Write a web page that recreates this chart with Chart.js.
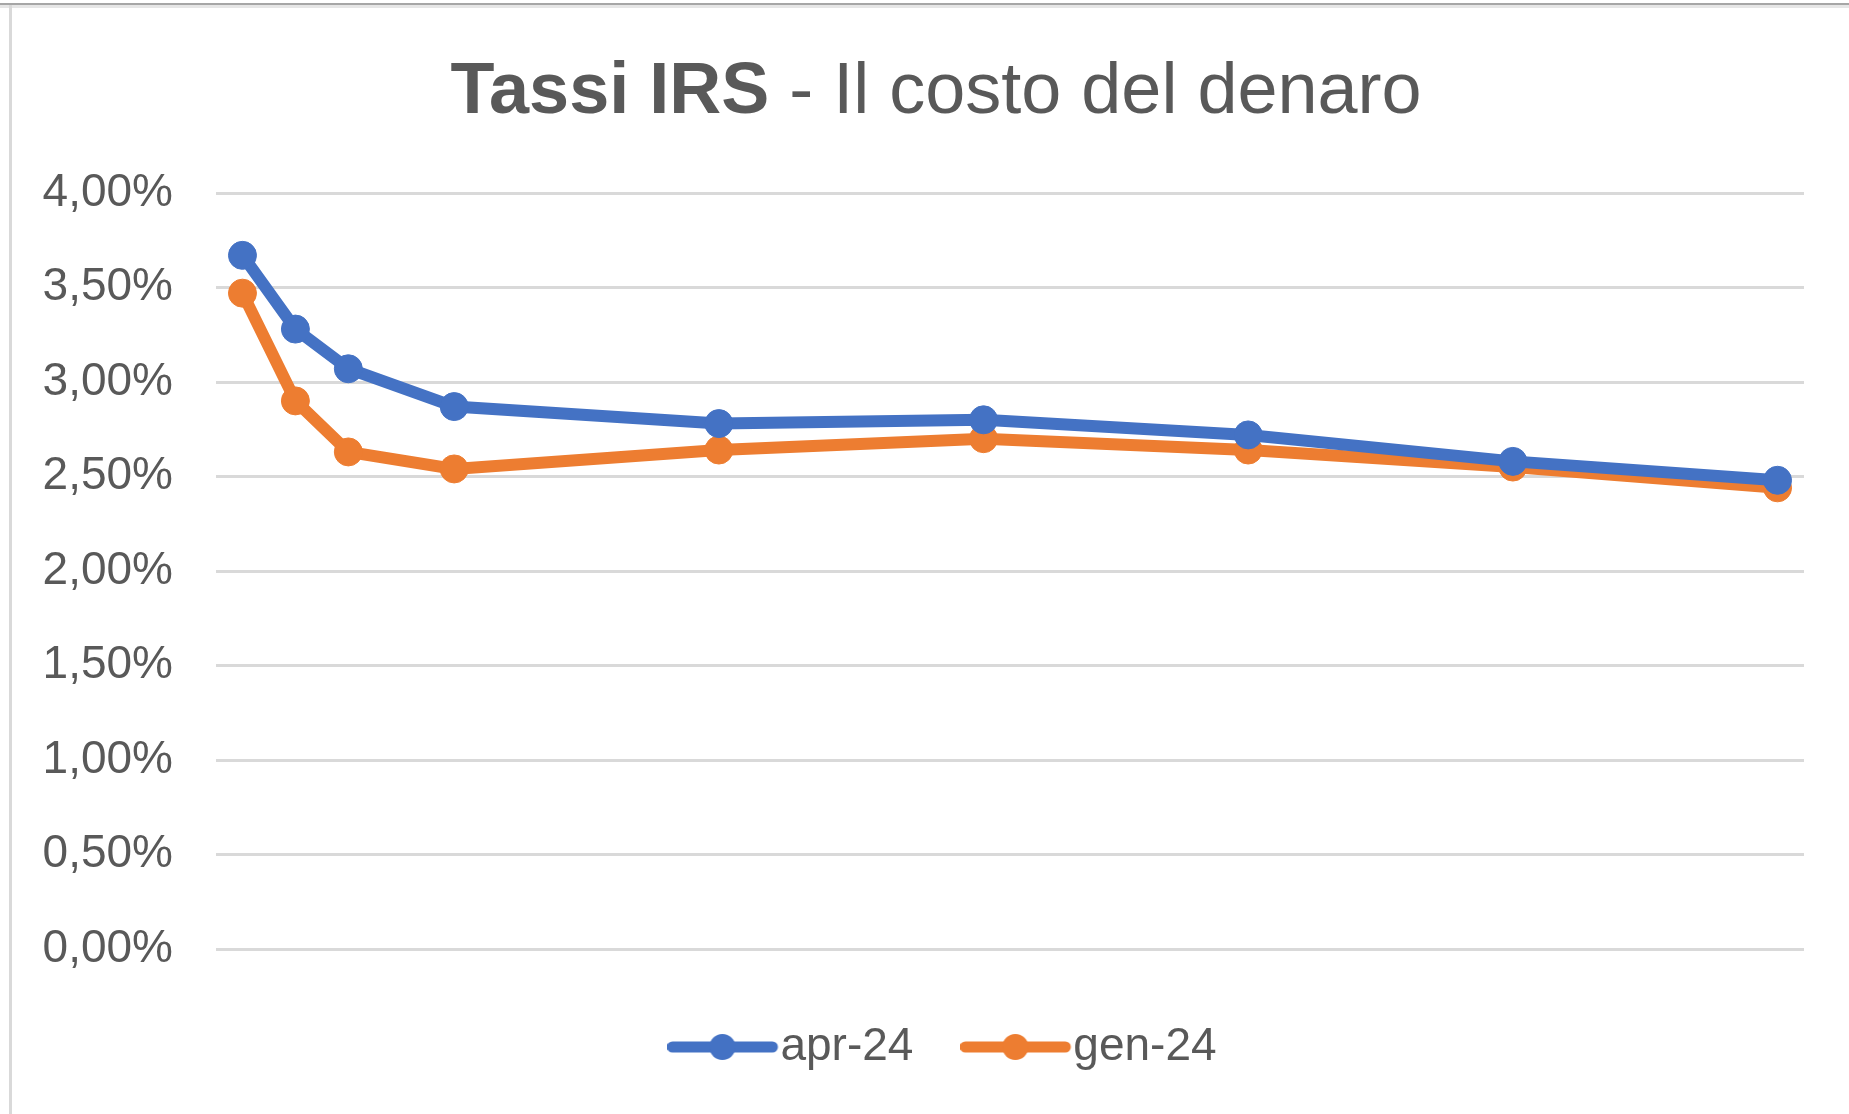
<!DOCTYPE html>
<html>
<head>
<meta charset="utf-8">
<script src="https://cdn.jsdelivr.net/npm/chart.js@4/dist/chart.umd.min.js"></script>
<style>
  html, body { margin: 0; padding: 0; background: #fff; }
  #wrap { position: absolute; left: 0; top: 0; width: 1849px; height: 1114px; }
  .edge-top { position: absolute; left: 0; top: 3px; width: 1849px; height: 2px; background: #a6a6a6; }
  .edge-top2 { position: absolute; left: 0; top: 5px; width: 1849px; height: 3px; background: #e6e6e6; }
  .edge-left { position: absolute; left: 9px; top: 5px; width: 3px; height: 1109px; background: #d9d9d9; }
</style>
</head>
<body>
<div id="wrap"><canvas id="chartIrs"></canvas></div>
<div class="edge-top"></div>
<div class="edge-top2"></div>
<div class="edge-left"></div>
<script>
const titleBold = 'Tassi IRS';
const titleRest = ' - Il costo del denaro';

// durata in anni
const scadenze = [1, 2, 3, 5, 10, 15, 20, 25, 30];
const serieLabels = ['apr-24', 'gen-24'];
const apr24 = [3.67, 3.28, 3.07, 2.87, 2.78, 2.80, 2.72, 2.58, 2.48];
const gen24 = [3.47, 2.90, 2.63, 2.54, 2.64, 2.70, 2.64, 2.55, 2.44];
const yTicks = [0, 0.5, 1, 1.5, 2, 2.5, 3, 3.5, 4];

const colors = ['#4472c4', '#ed7d31'];
const textColor = '#595959';
const fontFamily = '"Liberation Sans", Arial, sans-serif';

function toPoints(values) {
  return scadenze.map((x, i) => ({ x, y: values[i] }));
}

function formatPerc(value) {
  return value.toFixed(2).replace('.', ',') + '%';
}

// simbolo legenda: linea con pallino (spazio vuoto a destra per centrarlo)
function legendMarker(color) {
  const c = document.createElement('canvas');
  c.width = 118;
  c.height = 30;
  const g = c.getContext('2d');
  g.strokeStyle = color;
  g.lineWidth = 11;
  g.lineCap = 'round';
  g.beginPath();
  g.moveTo(5, 15);
  g.lineTo(105, 15);
  g.stroke();
  g.fillStyle = color;
  g.beginPath();
  g.arc(55, 15, 13, 0, Math.PI * 2);
  g.fill();
  return c;
}

const markers = colors.map(legendMarker);

const titlePlugin = {
  id: 'mixedTitle',
  afterDraw(chart) {
    const { ctx } = chart;
    ctx.save();
    ctx.fillStyle = textColor;
    ctx.textBaseline = 'alphabetic';
    ctx.font = `bold 72px ${fontFamily}`;
    const w1 = ctx.measureText(titleBold).width;
    ctx.font = `72px ${fontFamily}`;
    const w2 = ctx.measureText(titleRest).width;
    const x0 = 936 - (w1 + w2) / 2;
    ctx.font = `bold 72px ${fontFamily}`;
    ctx.fillText(titleBold, x0, 113);
    ctx.font = `72px ${fontFamily}`;
    ctx.fillText(titleRest, x0 + w1, 113);
    ctx.restore();
  },
};

// sposta la legenda un po' a destra, come nell'originale
const legendShift = {
  id: 'legendShift',
  afterLayout(chart) {
    if (!chart.legend) return;
    chart.legend.left += 44;
    chart.legend.right += 44;
  },
};

const ctx = document.getElementById('chartIrs');

new Chart(ctx, {
  type: 'line',
  data: {
    datasets: [
      {
        label: serieLabels[0],
        data: toPoints(apr24),
        borderColor: colors[0],
        backgroundColor: colors[0],
        borderWidth: 12,
        pointRadius: 14,
        pointBorderWidth: 1,
        tension: 0,
      },
      {
        label: serieLabels[1],
        data: toPoints(gen24),
        borderColor: colors[1],
        backgroundColor: colors[1],
        borderWidth: 12,
        pointRadius: 14,
        pointBorderWidth: 1,
        tension: 0,
      },
    ],
  },
  options: {
    responsive: true,
    maintainAspectRatio: false,
    animation: false,
    layout: { padding: { top: 193, left: 20, right: 45, bottom: 34 } },
    plugins: {
      title: { display: false },
      tooltip: { enabled: false },
      legend: {
        position: 'bottom',
        labels: {
          usePointStyle: true,
          pointStyleWidth: 62,
          boxHeight: 30,
          padding: 75,
          color: textColor,
          font: { family: fontFamily, size: 46 },
          generateLabels(chart) {
            const items = Chart.defaults.plugins.legend.labels.generateLabels(chart);
            items.forEach((item, i) => { item.pointStyle = markers[i]; });
            return items;
          },
        },
      },
    },
    scales: {
      x: {
        type: 'linear',
        min: 0.5,
        max: 30.5,
        display: false,
      },
      y: {
        min: 0,
        max: 4,
        afterFit(scale) { scale.width = 196; },
        afterBuildTicks(scale) { scale.ticks = yTicks.map((v) => ({ value: v })); },
        border: { display: false },
        grid: { color: '#d9d9d9', lineWidth: 3, drawTicks: false },
        ticks: {
          padding: 43,
          color: textColor,
          font: { family: fontFamily, size: 46 },
          callback: (v) => formatPerc(v),
        },
      },
    },
  },
  plugins: [titlePlugin, legendShift],
});
</script>
</body>
</html>
